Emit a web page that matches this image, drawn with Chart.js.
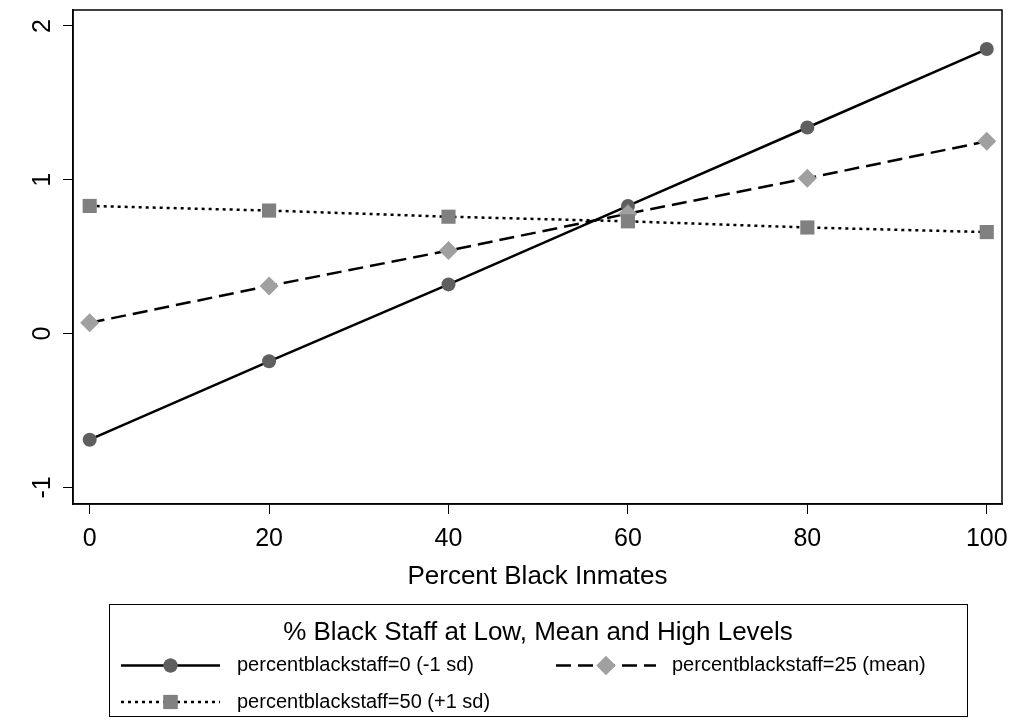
<!DOCTYPE html>
<html><head><meta charset="utf-8">
<script src="https://cdn.jsdelivr.net/npm/chart.js@4.4.0/dist/chart.umd.min.js"></script>
<style>html,body{margin:0;padding:0;background:#fff;}#wrap{width:1015px;height:724px;}</style>
</head><body><div id="wrap"><canvas id="c" width="1015" height="724"></canvas></div>
<script>
const categories = [0, 20, 40, 60, 80, 100];
const staffLow = [-0.69, -0.18, 0.32, 0.83, 1.34, 1.85];
const staffMean = [0.07, 0.31, 0.54, 0.78, 1.01, 1.25];
const staffHigh = [0.83, 0.80, 0.76, 0.73, 0.69, 0.66];
const seriesLabels = ['percentblackstaff=0 (-1 sd)', 'percentblackstaff=25 (mean)', 'percentblackstaff=50 (+1 sd)'];
const xTicks = [0, 20, 40, 60, 80, 100];
const yTicks = [-1, 0, 1, 2];
const xTitle = 'Percent Black Inmates';
const legendTitle = '% Black Staff at Low, Mean and High Levels';

const FONT = '"Liberation Sans", Arial, sans-serif';
const pts = arr => categories.map((x, i) => ({x: x, y: arr[i]}));

const styles = [
  {dash: [], fill: '#5f5f5f', shape: 'circle', r: 7},
  {dash: [15, 7], fill: '#a0a0a0', shape: 'rectRot', r: 9.5},
  {dash: [3, 4], fill: '#808080', shape: 'rect', r: 10}
];

const frameAndLegend = {
  id: 'frameAndLegend',
  afterDraw(chart) {
    const ctx = chart.ctx, a = chart.chartArea;
    ctx.save();
    ctx.strokeStyle = '#000';
    ctx.lineWidth = 1.5;
    ctx.strokeRect(a.left, a.top, a.right - a.left, a.bottom - a.top);
    ctx.lineWidth = 1;
    ctx.strokeRect(109.5, 604.5, 858, 112);
    ctx.fillStyle = '#000';
    ctx.font = '26px ' + FONT;
    ctx.textAlign = 'center';
    ctx.textBaseline = 'middle';
    ctx.fillText(legendTitle, 538, 633);
    const entries = [
      {x0: 121, x1: 220, y: 665.5, tx: 237},
      {x0: 556, x1: 656, y: 665.5, tx: 672},
      {x0: 121, x1: 220, y: 702, tx: 237}
    ];
    entries.forEach((e, i) => {
      const s = styles[i];
      ctx.save();
      ctx.strokeStyle = '#000';
      ctx.lineWidth = 2.5;
      ctx.setLineDash(s.dash);
      ctx.beginPath();
      ctx.moveTo(e.x0, e.y);
      ctx.lineTo(e.x1, e.y);
      ctx.stroke();
      ctx.restore();
      ctx.fillStyle = s.fill;
      Chart.helpers.drawPoint(ctx, {pointStyle: s.shape, radius: s.r, borderWidth: 0, rotation: 0}, (e.x0 + e.x1) / 2, e.y);
      ctx.fill();
      ctx.fillStyle = '#000';
      ctx.font = '20px ' + FONT;
      ctx.textAlign = 'left';
      ctx.textBaseline = 'middle';
      ctx.fillText(seriesLabels[i], e.tx, e.y);
    });
    ctx.restore();
  }
};

const datasets = [staffLow, staffMean, staffHigh].map((arr, i) => ({
  label: seriesLabels[i],
  data: pts(arr),
  showLine: true,
  borderColor: '#000',
  borderWidth: 2.5,
  borderDash: styles[i].dash,
  pointStyle: styles[i].shape,
  pointRadius: styles[i].r,
  pointBackgroundColor: styles[i].fill,
  pointBorderWidth: 0,
  pointBorderColor: styles[i].fill,
  order: 3 - i,
  clip: false
}));

new Chart(document.getElementById('c'), {
  type: 'scatter',
  data: {datasets},
  plugins: [frameAndLegend],
  options: {
    responsive: false,
    animation: false,
    devicePixelRatio: 1,
    layout: {padding: {left: 0, top: 10, right: 13, bottom: 0}},
    plugins: {legend: {display: false}, tooltip: {enabled: false}},
    scales: {
      x: {
        type: 'linear', min: -1.86, max: 101.7,
        afterBuildTicks: s => { s.ticks = xTicks.map(v => ({value: v})); },
        afterFit: s => { s.height = 220; s.paddingLeft = 0; s.paddingRight = 0; },
        grid: {display: true, drawOnChartArea: false, drawTicks: true, tickLength: 10, color: '#000', lineWidth: 1},
        border: {display: true, color: '#000', width: 1.5},
        ticks: {color: '#000', font: {family: FONT, size: 25}, padding: 10, maxRotation: 0, minRotation: 0, autoSkip: false},
        title: {display: true, text: xTitle, color: '#000', font: {family: FONT, size: 26}, padding: {top: 0, bottom: 132}}
      },
      y: {
        type: 'linear', min: -1.108, max: 2.104,
        afterBuildTicks: s => { s.ticks = yTicks.map(v => ({value: v})); },
        afterFit: s => { s.width = 73; s.paddingTop = 0; s.paddingBottom = 0; },
        grid: {display: true, drawOnChartArea: false, drawTicks: true, tickLength: 10, color: '#000', lineWidth: 1},
        border: {display: true, color: '#000', width: 1.5},
        ticks: {color: '#000', font: {family: FONT, size: 25}, padding: 9, minRotation: 90, maxRotation: 90, crossAlign: 'center', autoSkip: false}
      }
    }
  }
});
</script></body></html>
